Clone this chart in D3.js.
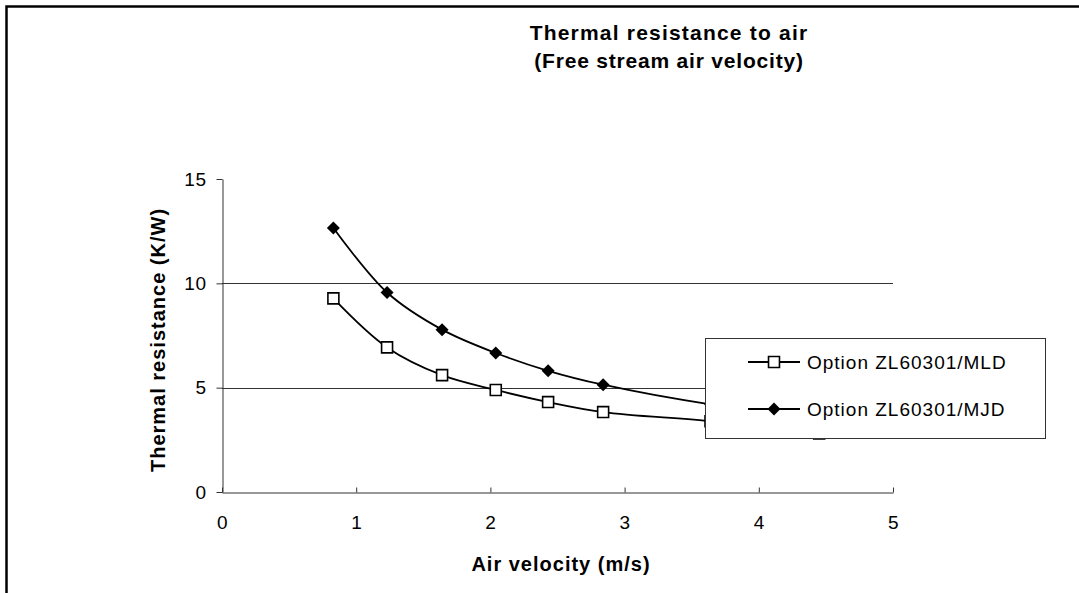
<!DOCTYPE html>
<html lang="en">
<head>
  <meta charset="UTF-8">
  <title>Thermal resistance to air</title>
  <script src="https://d3js.org/d3.v7.min.js"></script>
  <style>
    body {
      margin: 0;
      background: #fff;
    }
    svg text {
      font-family: "Liberation Sans", Arial, sans-serif;
      fill: #000;
    }
    .title, .axis-title {
      font-weight: bold;
    }
  </style>
</head>
<body>
  <svg id="chart" width="1079" height="593"></svg>

  <script>
    // values
    const velocity = [0.83, 1.23, 1.64, 2.04, 2.43, 2.84, 3.64, 4.45];
    const mld = [9.28, 6.93, 5.6, 4.89, 4.31, 3.83, 3.39, 2.8];
    const mjd = [12.65, 9.56, 7.78, 6.66, 5.81, 5.14, 4.2, 3.6];
    const seriesNames = ["Option ZL60301/MLD", "Option ZL60301/MJD"];
    const xTicks = [0, 1, 2, 3, 4, 5];
    const yTicks = [0, 5, 10, 15];
    const gridValues = [5, 10];

    const svg = d3.select("#chart");

    // outer frame (only top and left edges show)
    svg.append("path")
      .attr("d", "M6.5,600 L6.5,6.5 L1085,6.5")
      .attr("fill", "none")
      .attr("stroke", "#000")
      .attr("stroke-width", 2.5);

    const x = d3.scaleLinear().domain([0, 5]).range([222, 893]);
    const y = d3.scaleLinear().domain([0, 15]).range([492, 179]);

    // gridlines
    svg.append("g")
      .selectAll("line")
      .data(gridValues)
      .enter()
      .append("line")
      .attr("x1", x(0))
      .attr("x2", x(5))
      .attr("y1", d => Math.round(y(d)) + 0.5)
      .attr("y2", d => Math.round(y(d)) + 0.5)
      .attr("stroke", "#333")
      .attr("stroke-width", 1);

    // axes
    const xAxis = svg.append("g")
      .attr("transform", `translate(0,${Math.round(y(0)) + 0.5})`)
      .call(d3.axisBottom(x).tickValues(xTicks).tickFormat(d3.format("d"))
        .tickSizeInner(-5).tickSizeOuter(0).tickPadding(23));
    const yAxis = svg.append("g")
      .attr("transform", `translate(${Math.round(x(0)) + 0.5},0)`)
      .call(d3.axisLeft(y).tickValues(yTicks).tickFormat(d3.format("d"))
        .tickSizeInner(6).tickSizeOuter(0).tickPadding(10));

    [xAxis, yAxis].forEach(g => {
      g.select(".domain").attr("stroke", "#333").attr("stroke-width", 1);
      g.selectAll(".tick line").attr("stroke", "#333");
      g.selectAll(".tick text")
        .style("font-size", "19px")
        .style("letter-spacing", "0.5px")
        .attr("fill", "#000");
    });

    // series lines
    const line = d3.line()
      .x(d => x(d[0]))
      .y(d => y(d[1]))
      .curve(d3.curveCatmullRom.alpha(0.5));

    const mldPts = velocity.map((v, i) => [v, mld[i]]);
    const mjdPts = velocity.map((v, i) => [v, mjd[i]]);

    [mldPts, mjdPts].forEach(pts => {
      svg.append("path")
        .datum(pts)
        .attr("d", line)
        .attr("fill", "none")
        .attr("stroke", "#000")
        .attr("stroke-width", 1.8);
    });

    const square = d3.symbol().type(d3.symbolSquare).size(120);
    const diamond = "M0,-6.5L6.5,0L0,6.5L-6.5,0Z";

    svg.append("g")
      .selectAll("path")
      .data(mldPts)
      .enter()
      .append("path")
      .attr("d", square)
      .attr("transform", d => `translate(${x(d[0])},${y(d[1])})`)
      .attr("fill", "#fff")
      .attr("stroke", "#000")
      .attr("stroke-width", 1.6);

    svg.append("g")
      .selectAll("path")
      .data(mjdPts)
      .enter()
      .append("path")
      .attr("d", diamond)
      .attr("transform", d => `translate(${x(d[0])},${y(d[1])})`)
      .attr("fill", "#000");

    // legend
    const legend = svg.append("g");
    legend.append("rect")
      .attr("x", 705.5)
      .attr("y", 338.5)
      .attr("width", 340)
      .attr("height", 100)
      .attr("fill", "#fff")
      .attr("stroke", "#333")
      .attr("stroke-width", 1);

    const legendRows = legend.selectAll("g.row")
      .data(seriesNames)
      .enter()
      .append("g")
      .attr("class", "row")
      .attr("transform", (d, i) => `translate(0,${i === 0 ? 362 : 409})`);

    legendRows.append("line")
      .attr("x1", 748)
      .attr("x2", 800)
      .attr("stroke", "#000")
      .attr("stroke-width", 1.8);

    legendRows.append("path")
      .attr("d", (d, i) => i === 0 ? square() : diamond)
      .attr("transform", "translate(774,0)")
      .attr("fill", (d, i) => i === 0 ? "#fff" : "#000")
      .attr("stroke", (d, i) => i === 0 ? "#000" : "none")
      .attr("stroke-width", 1.6);

    legendRows.append("text")
      .attr("x", 807)
      .attr("dy", "0.35em")
      .style("font-size", "19px")
      .style("letter-spacing", "1px")
      .text(d => d);

    // titles
    svg.append("text")
      .attr("class", "title")
      .attr("x", 669)
      .attr("y", 39.5)
      .attr("text-anchor", "middle")
      .style("font-size", "21px")
      .style("letter-spacing", "1.2px")
      .text("Thermal resistance to air");
    svg.append("text")
      .attr("class", "title")
      .attr("x", 669)
      .attr("y", 67.5)
      .attr("text-anchor", "middle")
      .style("font-size", "21px")
      .style("letter-spacing", "0.8px")
      .text("(Free stream air velocity)");

    svg.append("text")
      .attr("class", "axis-title")
      .attr("x", 561)
      .attr("y", 571)
      .attr("text-anchor", "middle")
      .style("font-size", "20px")
      .style("letter-spacing", "1px")
      .text("Air velocity (m/s)");

    svg.append("text")
      .attr("class", "axis-title")
      .attr("transform", "translate(165,340) rotate(-90)")
      .attr("text-anchor", "middle")
      .style("font-size", "20px")
      .style("letter-spacing", "1px")
      .text("Thermal resistance (K/W)");
  </script>
</body>
</html>
